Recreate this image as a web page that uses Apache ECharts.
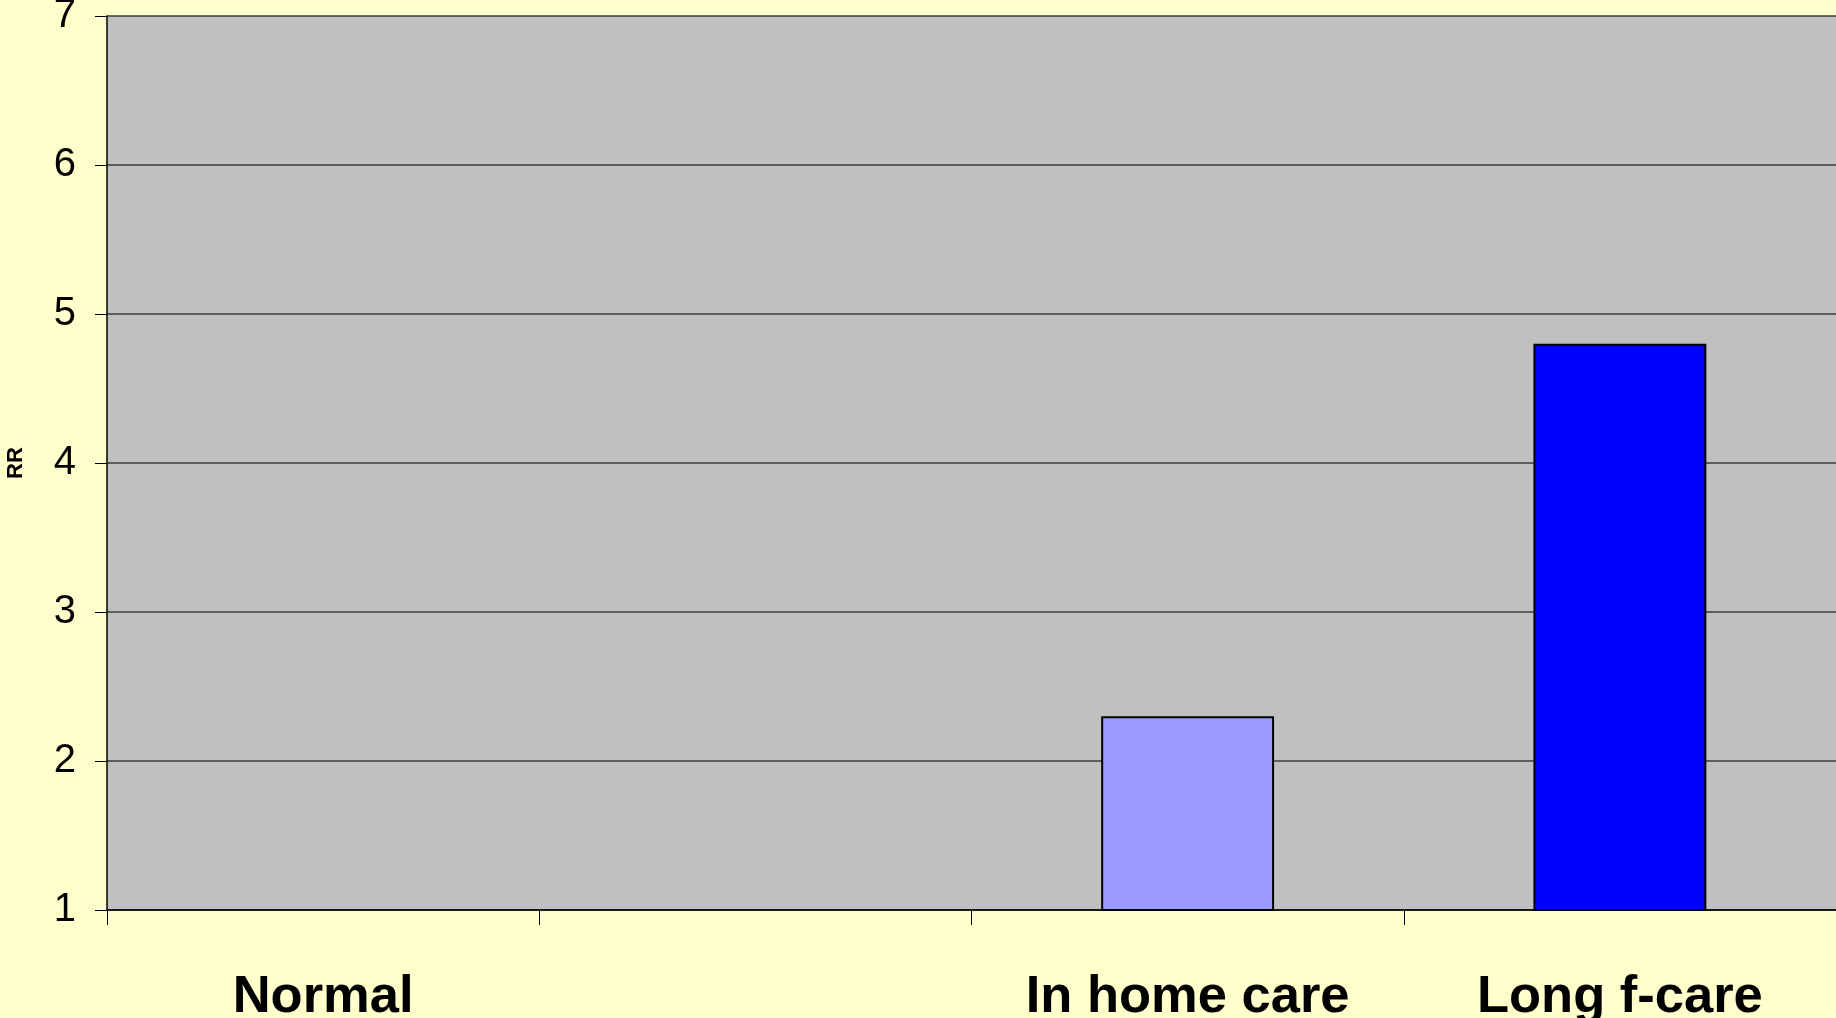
<!DOCTYPE html>
<html>
<head>
<meta charset="utf-8">
<script src="https://cdn.jsdelivr.net/npm/echarts@6/dist/echarts.min.js"></script>
<style>
  html, body { margin: 0; padding: 0; background: #FFFFCC; }
  #main { width: 1836px; height: 1018px; }
</style>
</head>
<body>
<div id="main"></div>
<script>
// categories and RR values
const categories = ['Normal', '', 'In home care', 'Long f-care']
const rrValues = [1, null, 2.3, 4.8]
const barColors = ['#C0C0C0', '#C0C0C0', '#9999FF', '#0000FF']
const yTicks = { min: 1, max: 7, interval: 1 }

const chart = echarts.init(document.getElementById('main'))
const option = {
  backgroundColor: '#FFFFCC',
  animation: false,
  grid: {
    left: 107,
    right: 0,
    top: 16,
    bottom: 108,
    outerBoundsMode: 'none',
    containLabel: false,
    show: true,
    backgroundColor: '#C0C0C0',
    borderWidth: 0
  },
  xAxis: {
    type: 'category',
    data: categories,
    axisLine: { lineStyle: { color: '#000', width: 1.5 } },
    axisTick: { show: true, length: 15, lineStyle: { color: '#000', width: 1 } },
    axisLabel: {
      color: '#000',
      fontFamily: 'Liberation Sans',
      fontWeight: 'bold',
      fontSize: 52.5,
      margin: 61,
      interval: 0
    }
  },
  yAxis: {
    type: 'value',
    min: yTicks.min,
    max: yTicks.max,
    interval: yTicks.interval,
    name: 'RR',
    nameLocation: 'middle',
    nameGap: 80,
    nameTextStyle: {
      color: '#000',
      fontFamily: 'Liberation Sans',
      fontWeight: 'bold',
      fontSize: 22
    },
    axisLine: { show: true, lineStyle: { color: '#000', width: 1.5 } },
    axisTick: { show: true, length: 12, lineStyle: { color: '#000', width: 1 } },
    axisLabel: {
      color: '#000',
      fontFamily: 'Liberation Sans',
      fontSize: 40,
      margin: 31
    },
    splitLine: { show: true, lineStyle: { color: '#3c3c3c', width: 1.5 } }
  },
  series: [
    {
      type: 'bar',
      barWidth: '40%',
      clip: true,
      data: rrValues.map((v, i) => ({
        value: v,
        itemStyle: { color: barColors[i], borderColor: '#000', borderWidth: 2 }
      }))
    }
  ]
}
chart.setOption(option)
</script>
</body>
</html>
